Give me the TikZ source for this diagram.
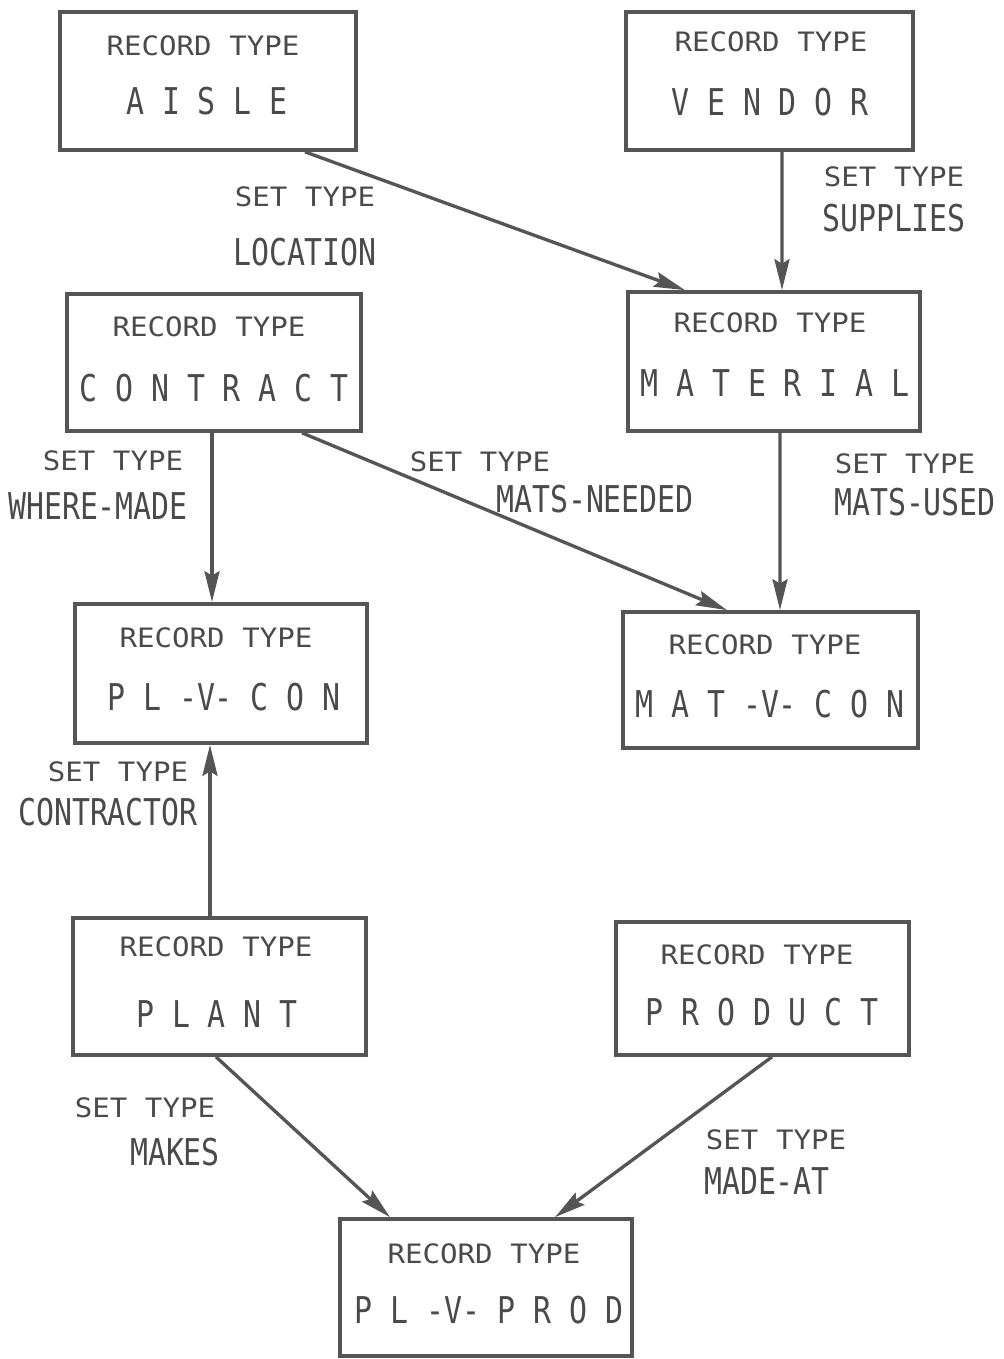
\documentclass[tikz,border=0pt]{standalone}
\usepackage{fontspec}
\usetikzlibrary{arrows.meta,calc}
% typewriter-like lettering: a regular line and a tall condensed line
\newfontfamily\smallfont[FakeStretch=1.09]{DejaVu Sans Mono}
\newfontfamily\tallfont[FakeStretch=0.81]{DejaVu Sans Mono}
\newdimen\pxu
\pxu=0.02cm
\definecolor{ink}{HTML}{4A4A4A}
\definecolor{rule}{HTML}{555555}
\tikzset{
  recbox/.style={draw=rule, line width=2.1pt, rectangle, inner sep=0pt},
  small/.style={text=ink, inner sep=0pt, font=\smallfont\fontsize{15.2}{16}\selectfont},
  tall/.style={text=ink, inner sep=0pt, font=\tallfont\fontsize{21}{22}\selectfont},
  link/.style={draw=rule, line width=1.9pt,
    -{Stealth[length=0.62cm, width=0.3cm, inset=0.09cm]}},
}
\begin{document}
\begin{tikzpicture}[x=0.02cm, y=-0.02cm]
\useasboundingbox (0,0) rectangle (1004,1359);

% record boxes
\node[recbox, minimum width=296\pxu, minimum height=138\pxu] (aisle)    at (208,81) {};
\node[recbox, minimum width=287\pxu, minimum height=138\pxu] (vendor)   at (769.5,81) {};
\node[recbox, minimum width=294\pxu, minimum height=137\pxu] (contract) at (214,362.5) {};
\node[recbox, minimum width=292\pxu, minimum height=139\pxu] (material) at (774,361.5) {};
\node[recbox, minimum width=292\pxu, minimum height=139\pxu] (plvcon)   at (221,673.5) {};
\node[recbox, minimum width=295\pxu, minimum height=136\pxu] (matvcon)  at (770.5,680) {};
\node[recbox, minimum width=293\pxu, minimum height=137\pxu] (plant)    at (219.5,986.5) {};
\node[recbox, minimum width=293\pxu, minimum height=133\pxu] (product)  at (762.5,988.5) {};
\node[recbox, minimum width=292\pxu, minimum height=137\pxu] (plvprod)  at (486,1287.5) {};

% box lettering
\node[small] (aisle-a)    at (203,46)   {RECORD TYPE};
\node[tall]  (aisle-b)    at (207,101)  {A I S L E};
\node[small] (vendor-a)   at (771,42)   {RECORD TYPE};
\node[tall]  (vendor-b)   at (770,102)  {V E N D O R};
\node[small] (contract-a) at (209,327)  {RECORD TYPE};
\node[tall]  (contract-b) at (214,388)  {C O N T R A C T};
\node[small] (material-a) at (770,323)  {RECORD TYPE};
\node[tall]  (material-b) at (775,383)  {M A T E R I A L};
\node[small] (plvcon-a)   at (216,638)  {RECORD TYPE};
\node[tall]  (plvcon-b)   at (224,697)  {P L -V- C O N};
\node[small] (matvcon-a)  at (765,645)  {RECORD TYPE};
\node[tall]  (matvcon-b)  at (770,704)  {M A T -V- C O N};
\node[small] (plant-a)    at (216,947)  {RECORD TYPE};
\node[tall]  (plant-b)    at (217,1014) {P L A N T};
\node[small] (product-a)  at (757,955)  {RECORD TYPE};
\node[tall]  (product-b)  at (762,1012) {P R O D U C T};
\node[small] (plvprod-a)  at (484,1254) {RECORD TYPE};
\node[tall]  (plvprod-b)  at (489,1310) {P L -V- P R O D};

% set types
\draw[link] ($(aisle.south)+(97,0)$) -- ($(material.north)+(-89,0)$);
\draw[link] ($(vendor.south)+(12.5,0)$) -- ($(material.north)+(8,0)$);
\draw[link] ($(contract.south)+(-2,0)$) -- ($(plvcon.north)+(-9,0)$);
\draw[link] ($(contract.south)+(88,0)$) -- ($(matvcon.north)+(-43.5,0)$);
\draw[link] ($(material.south)+(6,0)$) -- ($(matvcon.north)+(9.5,0)$);
\draw[link] ($(plant.north)+(-9.5,0)$) -- ($(plvcon.south)+(-11,0)$);
\draw[link] ($(plant.south)+(-3.5,0)$) -- ($(plvprod.north)+(-96,0)$);
\draw[link] ($(product.south)+(9.5,0)$) -- ($(plvprod.north)+(69,0)$);

% set type labels
\node[small] (loc-a)  at (305,197)  {SET TYPE};
\node[tall]  (loc-b)  at (305,252)  {LOCATION};
\node[small] (sup-a)  at (894,177)  {SET TYPE};
\node[tall]  (sup-b)  at (894,218)  {SUPPLIES};
\node[small] (wm-a)   at (113,461)  {SET TYPE};
\node[tall]  (wm-b)   at (98,506)   {WHERE-MADE};
\node[small] (mn-a)   at (480,462)  {SET TYPE};
\node[tall]  (mn-b)   at (595,499)  {MATS-NEEDED};
\node[small] (mu-a)   at (905,464)  {SET TYPE};
\node[tall]  (mu-b)   at (915,502)  {MATS-USED};
\node[small] (ctr-a)  at (118,772)  {SET TYPE};
\node[tall]  (ctr-b)  at (108,812)  {CONTRACTOR};
\node[small] (mk-a)   at (145,1108) {SET TYPE};
\node[tall]  (mk-b)   at (175,1152) {MAKES};
\node[small] (ma-a)   at (776,1140) {SET TYPE};
\node[tall]  (ma-b)   at (767,1181) {MADE-AT};
\end{tikzpicture}
\end{document}
